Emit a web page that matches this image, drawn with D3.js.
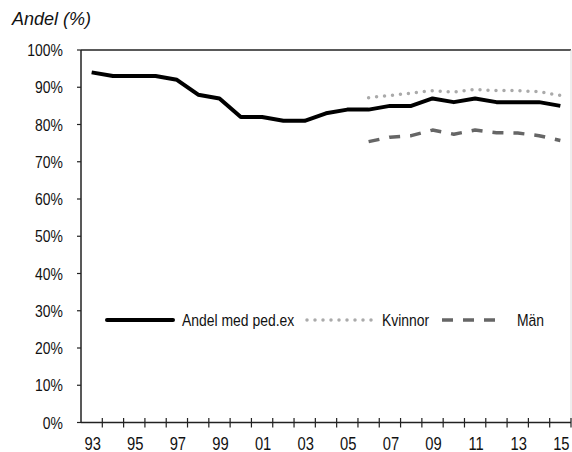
<!DOCTYPE html>
<html lang="sv">
<head>
<meta charset="utf-8" />
<title>Andel med ped.ex</title>
<style>
html, body {
  margin: 0px;
  padding: 0px;
  background: #fff;
}
.narrow text {
  font-family: 'Liberation Sans', Arial, sans-serif;
  fill: #111;
}
.title {
  font-family: 'Liberation Sans', Arial, sans-serif;
  font-style: italic;
  font-size: 18px;
  fill: #111;
}
</style>
</head>
<body>
<div id="chart"></div>

<script type="text/javascript" src="https://cdnjs.cloudflare.com/ajax/libs/d3/7.8.5/d3.min.js"></script>

<script>

// years on the x axis
var years = ["93","94","95","96","97","98","99","00","01","02","03","04","05","06","07","08","09","10","11","12","13","14","15"];
var xLabels = ["93","95","97","99","01","03","05","07","09","11","13","15"];
var yTicks = [0, 10, 20, 30, 40, 50, 60, 70, 80, 90, 100];

// Andel med ped.ex (%)
var andel = [94, 93, 93, 93, 92, 88, 87, 82, 82, 81, 81, 83, 84, 84, 85, 85, 87, 86, 87, 86, 86, 86, 85];

// Kvinnor / Män, from 06
var genderYears = ["06","07","08","09","10","11","12","13","14","15"];
var kvinnor = [87.2, 87.8, 88.4, 89.1, 88.7, 89.4, 89.1, 89.1, 88.8, 87.8];
var man = [75.4, 76.6, 77.0, 78.5, 77.4, 78.5, 77.8, 77.7, 77.0, 75.7];

var width = 572, height = 452;
var mLeft = 81, mRight = 571, mTop = 50, mBottom = 422.5;
var NARROW = 0.82; // Arial Narrow ~ 82% of Arial

var svg = d3.select("#chart").append("svg")
	.attr("width", width)
	.attr("height", height);

var x = d3.scaleBand()
	.domain(years)
	.range([mLeft, mRight])
	.padding(0);

var y = d3.scaleLinear()
	.domain([0, 100])
	.range([mBottom, mTop]);

// condensed text, squeezed horizontally
function narrowText(sel, px, py, size) {
	return sel.attr("transform", function(d, i) {
			return "translate(" + px(d, i) + "," + py(d, i) + ") scale(" + NARROW + ",1)";
		})
		.style("font-size", size + "px");
}

// frame
svg.append("line")
	.attr("x1", mLeft).attr("x2", mRight)
	.attr("y1", mTop).attr("y2", mTop)
	.attr("stroke", "#222").attr("stroke-width", 1.5);
svg.append("line")
	.attr("x1", mRight).attr("x2", mRight)
	.attr("y1", mTop).attr("y2", mBottom)
	.attr("stroke", "#ddd").attr("stroke-width", 1);

// y axis
var yAxis = svg.append("g").attr("class", "narrow");
yAxis.selectAll("line.tick")
	.data(yTicks)
	.enter()
	.append("line")
	.attr("class", "tick")
	.attr("x1", mLeft - 4).attr("x2", mLeft)
	.attr("y1", function(d) { return y(d); })
	.attr("y2", function(d) { return y(d); })
	.attr("stroke", "#222").attr("stroke-width", 1.2);
narrowText(yAxis.selectAll("text")
	.data(yTicks)
	.enter()
	.append("text"),
	function() { return 63; }, function(d) { return y(d); }, 17)
	.attr("dy", "0.36em")
	.attr("text-anchor", "end")
	.text(function(d) { return d + "%"; });
yAxis.append("line")
	.attr("x1", mLeft).attr("x2", mLeft)
	.attr("y1", mTop).attr("y2", mBottom)
	.attr("stroke", "#222").attr("stroke-width", 1.5);

// x axis, ticks on band edges
var xAxis = svg.append("g").attr("class", "narrow");
var edges = years.map(function(d) { return x(d); }).concat([mRight]);
xAxis.selectAll("line.tick")
	.data(edges.slice(1))
	.enter()
	.append("line")
	.attr("class", "tick")
	.attr("x1", function(d) { return d; })
	.attr("x2", function(d) { return d; })
	.attr("y1", mBottom - 4.5).attr("y2", mBottom + 5)
	.attr("stroke", "#222").attr("stroke-width", 1.2);
xAxis.append("line")
	.attr("x1", mLeft).attr("x2", mRight)
	.attr("y1", mBottom).attr("y2", mBottom)
	.attr("stroke", "#222").attr("stroke-width", 1.5);
narrowText(xAxis.selectAll("text")
	.data(xLabels)
	.enter()
	.append("text"),
	function(d) { return x(d) + x.bandwidth() / 2 + 1; }, function() { return 450; }, 18)
	.attr("text-anchor", "middle")
	.text(function(d) { return d; });

// title
svg.append("text")
	.attr("class", "title")
	.attr("x", 12)
	.attr("y", 24.5)
	.text("Andel (%)");

// lines
var line = d3.line()
	.x(function(d) { return x(d[0]) + x.bandwidth() / 2; })
	.y(function(d) { return y(d[1]); });

var styles = {
	andel:   {stroke: "#000", width: 4, dash: null, cap: "butt"},
	kvinnor: {stroke: "#aaa", width: 3.5, dash: "0 8", cap: "round"},
	man:     {stroke: "#666", width: 3.5, dash: "11 10", cap: "butt"}
};

function drawSeries(keys, vals, st) {
	svg.append("path")
		.datum(d3.zip(keys, vals))
		.attr("d", line)
		.attr("fill", "none")
		.attr("stroke", st.stroke)
		.attr("stroke-width", st.width)
		.attr("stroke-dasharray", st.dash)
		.attr("stroke-linecap", st.cap)
		.attr("stroke-linejoin", "round");
}

drawSeries(genderYears, man, styles.man);
drawSeries(genderYears, kvinnor, styles.kvinnor);
drawSeries(years, andel, styles.andel);

// legend
var legendItems = [
	{name: "Andel med ped.ex", st: styles.andel,   x1: 107, x2: 173, tx: 182},
	{name: "Kvinnor",          st: styles.kvinnor, x1: 307, x2: 372, tx: 382},
	{name: "Män",              st: styles.man,     x1: 442, x2: 498, tx: 517}
];
var legendY = 320;
var lg = svg.append("g").attr("class", "narrow");
legendItems.forEach(function(d) {
	lg.append("line")
		.attr("x1", d.x1).attr("x2", d.x2)
		.attr("y1", legendY).attr("y2", legendY)
		.attr("stroke", d.st.stroke)
		.attr("stroke-width", d.st.width)
		.attr("stroke-dasharray", d.st.dash)
		.attr("stroke-linecap", d.st.dash ? d.st.cap : "round");
	narrowText(lg.append("text").datum(d),
		function(d) { return d.tx; }, function() { return legendY; }, 17)
		.attr("dy", "0.36em")
		.text(d.name);
});

</script>
</body>
</html>
